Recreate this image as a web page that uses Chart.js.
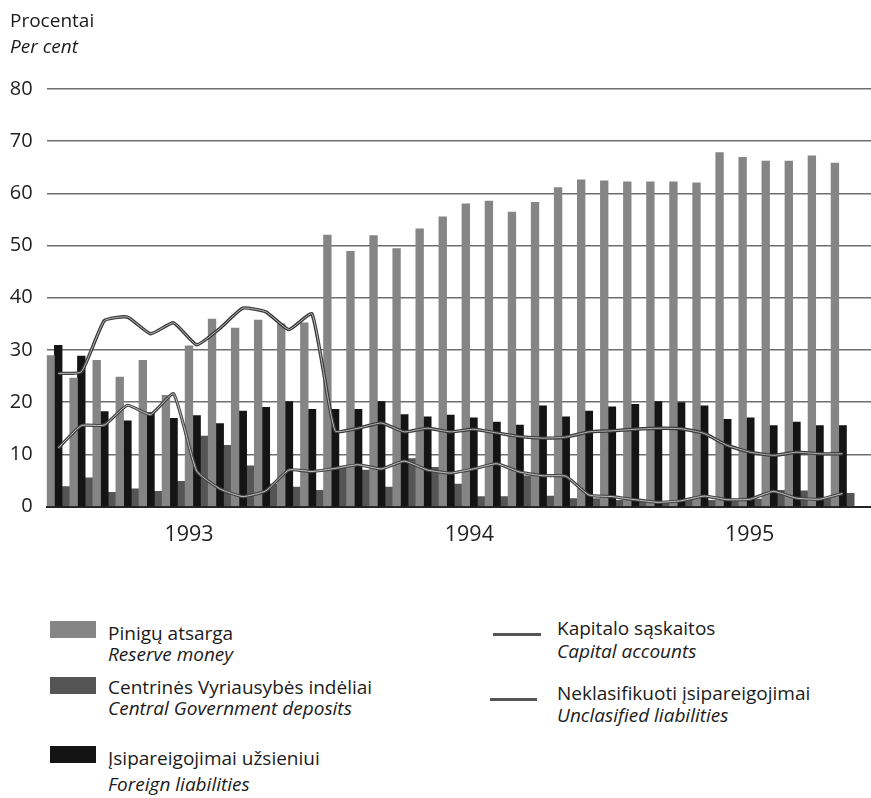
<!DOCTYPE html>
<html><head><meta charset="utf-8">
<script src="https://cdn.jsdelivr.net/npm/chart.js@4.4.1/dist/chart.umd.min.js"></script>
<style>
html,body{margin:0;padding:0;background:#fff;overflow:hidden;width:871px;height:798px;}
body{position:relative;font-family:"Open Sans",sans-serif;color:#1b1b1b;}
#c{position:absolute;left:0;top:0;}
.t{position:absolute;font-size:19px;line-height:26px;white-space:nowrap;}
.i{font-style:italic;}
.sw{position:absolute;left:50px;width:46px;height:17px;}
.ln{position:absolute;height:2.5px;background:#555;}
</style></head><body>
<canvas id="c" width="871" height="560"></canvas>
<div class="t" style="left:10px;top:7px">Procentai</div>
<div class="t i" style="left:10px;top:32.5px">Per cent</div>

<div class="sw" style="top:621px;background:#858585"></div>
<div class="t" style="left:108px;top:619.6px">Pinigų atsarga</div>
<div class="t i" style="left:108px;top:640.6px">Reserve money</div>
<div class="sw" style="top:677px;background:#555555"></div>
<div class="t" style="left:108px;top:674px">Centrinės Vyriausybės indėliai</div>
<div class="t i" style="left:108px;top:695px">Central Government deposits</div>
<div class="sw" style="top:746px;background:#141414"></div>
<div class="t" style="left:108px;top:745px">Įsipareigojimai užsieniui</div>
<div class="t i" style="left:108px;top:771px">Foreign liabilities</div>

<div class="ln" style="left:493px;top:633px;width:48px"></div>
<div class="t" style="left:557px;top:614.6px">Kapitalo sąskaitos</div>
<div class="t i" style="left:557px;top:637.5px">Capital accounts</div>
<div class="ln" style="left:490px;top:698px;width:47px"></div>
<div class="t" style="left:557px;top:679.6px">Neklasifikuoti įsipareigojimai</div>
<div class="t i" style="left:557px;top:702px">Unclasified liabilities</div>

<script>
// Monthly data, Jan 1993 - Nov 1995 (per cent)
const yearLabels = ['1993', '1994', '1995'];
const yTicks = [0, 10, 20, 30, 40, 50, 60, 70, 80];
const reserveMoney = [28.9, 24.6, 28.0, 24.8, 28.0, 21.3, 30.8, 35.9, 34.2, 35.7, 35.0, 35.2,
  52.0, 48.9, 51.9, 49.4, 53.2, 55.5, 58.0, 58.5, 56.4, 58.3, 61.1, 62.6,
  62.4, 62.2, 62.2, 62.2, 62.0, 67.8, 66.9, 66.2, 66.2, 67.2, 65.8];
const foreignLiabilities = [30.9, 28.8, 18.2, 16.4, 18.0, 16.9, 17.4, 15.9, 18.3, 19.0, 20.1, 18.6,
  18.6, 18.6, 20.1, 17.6, 17.2, 17.5, 17.0, 16.2, 15.6, 19.3, 17.2, 18.3,
  19.1, 19.6, 20.1, 19.9, 19.3, 16.7, 17.0, 15.5, 16.2, 15.5, 15.5];
const govDeposits = [3.8, 5.5, 2.7, 3.4, 2.9, 4.8, 13.5, 11.7, 7.8, 4.3, 3.7, 3.1,
  7.5, 7.0, 3.7, 9.2, 7.5, 4.3, 1.9, 1.9, 5.9, 2.0, 1.5, 1.5,
  1.2, 1.2, 1.0, 1.2, 1.2, 1.3, 1.4, 3.1, 3.0, 1.5, 2.5];
const capitalAccounts = [25.5, 25.8, 35.6, 36.3, 33.1, 35.2, 31.0, 34.1, 38.0, 37.3, 33.9, 36.9,
  14.5, 15.0, 16.0, 14.3, 15.0, 14.3, 14.8, 14.1, 13.4, 13.1, 13.3, 14.3,
  14.5, 14.8, 15.0, 14.9, 14.0, 11.7, 10.4, 9.8, 10.4, 10.1, 10.1];
const unclassifiedLiabilities = [11.2, 15.5, 15.6, 19.4, 17.6, 21.6, 6.8, 3.4, 1.9, 3.0, 7.0, 6.7,
  7.3, 8.0, 7.2, 8.7, 7.0, 6.4, 7.2, 8.2, 6.6, 5.9, 5.8, 2.2,
  1.9, 1.3, 0.8, 1.1, 2.0, 1.3, 1.4, 2.9, 1.6, 1.4, 2.5];

const pts = arr => arr.map((v, i) => ({ x: i, y: v }));
const yearTickPos = yearLabels.map((_, k) => 12.15 * k + 5.67);

const lineBase = { type: 'line', pointRadius: 0, tension: 0.15, fill: false };

new Chart(document.getElementById('c').getContext('2d'), {
  type: 'bar',
  data: {
    datasets: [
      Object.assign({}, lineBase, { label: 'Kapitalo sąskaitos', data: pts(capitalAccounts), borderColor: '#b8b8b8', borderWidth: 1, order: -2 }),
      Object.assign({}, lineBase, { label: 'Kapitalo sąskaitos', data: pts(capitalAccounts), borderColor: '#3a3a3a', borderWidth: 3.4, order: -1 }),
      Object.assign({}, lineBase, { label: 'Neklasifikuoti įsipareigojimai', data: pts(unclassifiedLiabilities), borderColor: '#c4c4c4', borderWidth: 1, order: -2 }),
      Object.assign({}, lineBase, { label: 'Neklasifikuoti įsipareigojimai', data: pts(unclassifiedLiabilities), borderColor: '#444444', borderWidth: 3.2, order: -1 }),
      { label: 'Pinigų atsarga', data: pts(reserveMoney), backgroundColor: '#858585', order: 0 },
      { label: 'Įsipareigojimai užsieniui', data: pts(foreignLiabilities), backgroundColor: '#141414', order: 0 },
      { label: 'Centrinės Vyriausybės indėliai', data: pts(govDeposits), backgroundColor: '#555555', order: 0 }
    ]
  },
  options: {
    responsive: false,
    animation: false,
    datasets: { bar: { categoryPercentage: 1, barPercentage: 1, borderWidth: 0 } },
    plugins: { legend: { display: false }, tooltip: { enabled: false } },
    layout: { padding: { top: 89, left: 0, right: 0, bottom: 0 } },
    scales: {
      x: {
        type: 'linear', min: -0.5, max: 35.23, offset: false,
        grid: { display: false, drawTicks: false },
        border: { display: true, color: '#222', width: 2 },
        afterBuildTicks: s => { s.ticks = yearTickPos.map(v => ({ value: v })); },
        afterFit: s => { s.height = 53.5; },
        ticks: {
          autoSkip: false, maxRotation: 0, padding: 15, color: '#222',
          font: { family: '"Open Sans", sans-serif', size: 21.5 },
          callback: (v, i) => yearLabels[i]
        }
      },
      y: {
        min: 0, max: 80,
        afterBuildTicks: s => { s.ticks = yTicks.map(v => ({ value: v })); },
        afterFit: s => { s.width = 46.7; },
        grid: { color: '#6e6e6e', lineWidth: 1.4, drawTicks: false },
        border: { display: false },
        ticks: { padding: 14, color: '#222', font: { family: '"Open Sans", sans-serif', size: 20 } }
      }
    }
  }
});
</script>
</body></html>
